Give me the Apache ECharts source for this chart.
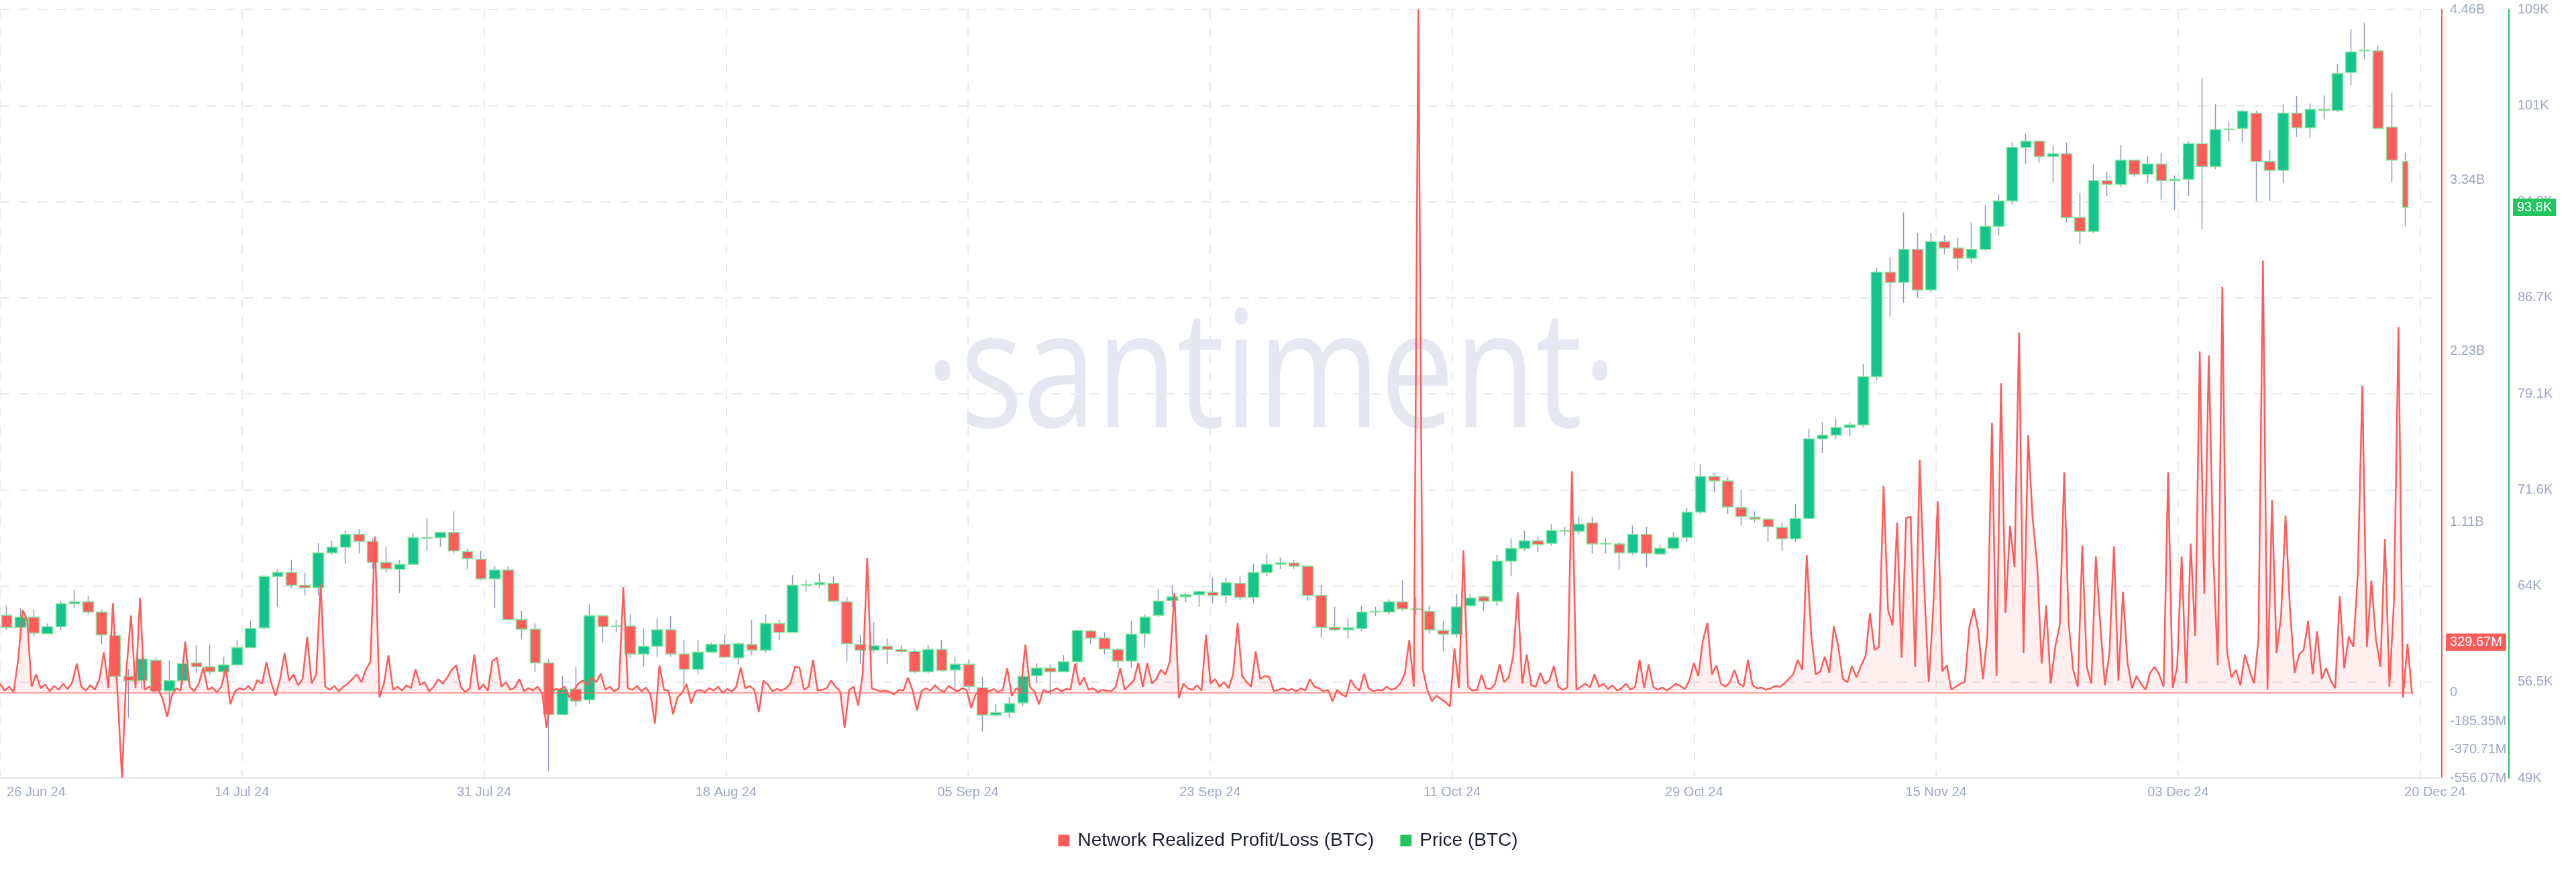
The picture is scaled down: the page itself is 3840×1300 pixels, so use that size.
<!DOCTYPE html>
<html>
<head>
<meta charset="utf-8">
<script src="https://cdn.jsdelivr.net/npm/echarts@6/dist/echarts.min.js"></script>
<style>
html,body{margin:0;padding:0;background:#ffffff;}
#chart{width:3840px;height:1300px;}
</style>
</head>
<body>
<div id="chart"></div>
<script>
// ---------------- DATA ----------------
const xTickLabels = ['26 Jun 24','14 Jul 24','31 Jul 24','18 Aug 24','05 Sep 24','23 Sep 24','11 Oct 24','29 Oct 24','15 Nov 24','03 Dec 24','20 Dec 24'];
const priceTickValues = [48.95, 56.5, 64.05, 71.6, 79.15, 86.7, 94.25, 101.8, 109.35];
const priceTickLabels = ['49K','56.5K','64K','71.6K','79.1K','86.7K','94.3K','101K','109K'];
const plTickValues = [-556.07, -370.71, -185.35, 0, 1114.5, 2229, 3343.5, 4458];
const plTickLabels = ['-556.07M','-370.71M','-185.35M','0','1.11B','2.23B','3.34B','4.46B'];

// Daily BTC candles [open, close, low, high] in thousands USD, from 26 Jun 2024 to 19 Dec 2024
const candleFirstDate = '2024-06-26';
const priceOHLC = [
 [61.75,60.8,60.6,62.45],[60.8,61.6,60.6,62.3],[61.6,60.35,60.1,62.2],[60.3,60.85,60.3,61.1],[60.85,62.65,60.6,62.9],
 [62.65,62.8,62.3,63.75],[62.8,62.0,61.8,63.25],[62.0,60.2,59.45,62.2],[60.15,56.95,56.8,60.5],[56.95,56.6,53.7,57.5],
 [56.6,58.3,56.0,58.5],[58.2,55.8,55.75,58.4],[55.8,56.6,54.3,58.2],[56.6,57.95,56.3,58.3],[58.0,57.7,57.2,59.4],
 [57.7,57.3,57.1,59.4],[57.3,57.85,56.6,58.5],[57.85,59.2,57.8,59.8],[59.2,60.7,59.2,61.3],[60.75,64.8,60.65,64.9],
 [64.8,65.1,62.4,65.35],[65.1,64.1,63.9,66.1],[64.1,63.9,63.3,65.1],[63.9,66.65,63.3,67.4],[66.65,67.1,66.5,67.6],
 [67.1,68.1,65.8,68.4],[68.1,67.55,66.6,68.5],[67.55,65.9,65.4,67.8],[65.9,65.4,65.1,67.1],[65.35,65.75,63.5,66.1],
 [65.75,67.85,65.75,68.2],[67.85,67.8,66.8,69.35],[67.85,68.25,67.1,68.3],[68.25,66.8,66.6,69.9],[66.75,66.2,65.35,66.95],
 [66.15,64.6,64.5,66.8],[64.6,65.3,62.3,65.6],[65.3,61.4,61.3,65.6],[61.4,60.65,59.9,62.1],[60.65,58.0,57.3,61.1],
 [58.0,53.95,49.5,58.3],[53.95,55.95,53.95,57.0],[55.95,55.0,54.6,57.7],[55.1,61.7,54.8,62.6],[61.7,60.85,59.6,61.75],
 [60.85,60.9,60.4,61.4],[60.9,58.7,58.4,61.8],[58.7,59.3,57.7,60.7],[59.3,60.6,58.5,61.5],[60.6,58.7,58.5,61.7],
 [58.7,57.5,56.1,59.8],[57.5,58.85,57.1,59.8],[58.85,59.45,58.8,59.6],[59.45,58.45,58.4,60.3],[58.4,59.5,57.9,59.6],
 [59.45,59.0,58.6,61.4],[59.0,61.1,58.8,61.8],[61.1,60.4,59.8,61.4],[60.4,64.1,60.4,64.9],[64.1,64.15,63.6,64.5],
 [64.15,64.3,63.9,65.0],[64.25,62.85,62.8,64.8],[62.8,59.5,58.1,63.2],[59.45,59.0,57.9,60.2],[59.0,59.35,58.8,61.2],
 [59.3,59.05,57.9,59.9],[59.05,58.9,58.8,59.4],[58.9,57.3,57.2,59.1],[57.3,59.05,57.2,59.4],[59.05,57.4,57.4,59.8],
 [57.45,57.9,55.6,58.5],[57.9,56.15,55.7,58.3],[56.05,53.9,52.6,56.9],[53.9,54.1,53.8,54.8],[54.1,54.8,53.7,55.3],
 [54.85,56.95,54.6,58.0],[57.0,57.6,56.4,58.0],[57.6,57.3,55.5,57.9],[57.3,58.1,57.3,58.6],[58.1,60.55,57.6,60.6],
 [60.5,59.95,59.5,60.6],[59.95,59.1,58.7,60.4],[59.05,58.15,57.6,59.2],[58.15,60.25,57.6,61.3],[60.3,61.6,59.2,61.8],
 [61.75,62.85,61.6,63.8],[62.9,63.2,62.4,64.1],[63.2,63.35,62.8,63.5],[63.35,63.6,62.4,63.65],[63.55,63.3,62.7,64.7],
 [63.3,64.3,62.7,64.7],[64.25,63.15,62.9,64.8],[63.15,65.1,62.7,65.8],[65.1,65.75,64.8,66.5],[65.75,65.85,65.4,66.3],
 [65.85,65.6,65.4,66.1],[65.6,63.3,62.9,65.6],[63.3,60.8,60.0,64.1],[60.8,60.6,60.5,62.4],[60.6,60.75,59.9,61.5],
 [60.7,62.0,60.5,62.5],[62.0,62.05,61.7,62.4],[62.0,62.8,61.8,63.0],[62.8,62.25,62.1,64.5],[62.25,62.2,61.8,63.2],
 [62.05,60.6,60.3,62.5],[60.55,60.25,58.9,61.3],[60.25,62.4,60.0,63.4],[62.5,63.1,62.4,63.4],[63.2,62.85,62.1,63.3],
 [62.85,66.0,62.5,66.5],[66.0,67.0,64.8,67.8],[67.0,67.6,66.8,68.4],[67.6,67.3,66.7,67.9],[67.4,68.4,67.2,68.9],
 [68.4,68.35,68.0,68.7],[68.35,68.9,68.1,69.5],[69.0,67.35,66.6,69.5],[67.35,67.4,66.6,67.8],[67.35,66.65,65.3,67.5],
 [66.65,68.1,66.5,68.8],[68.1,66.6,65.5,68.7],[66.55,67.0,66.5,67.3],[67.0,67.85,66.9,68.3],[67.85,69.85,67.5,70.2],
 [69.85,72.65,69.7,73.6],[72.65,72.3,71.4,72.9],[72.3,70.25,69.7,72.6],[70.2,69.5,68.8,71.6],[69.45,69.3,69.0,69.9],
 [69.3,68.7,67.5,69.4],[68.65,67.75,66.8,69.0],[67.75,69.35,67.5,70.5],[69.35,75.6,69.3,76.4],[75.6,75.9,74.5,76.9],
 [75.9,76.5,75.6,77.2],[76.5,76.7,75.8,76.9],[76.7,80.5,76.5,81.5],[80.5,88.7,80.2,89.0],[88.7,87.9,85.2,89.9],
 [87.9,90.5,86.3,93.4],[90.5,87.3,86.7,91.8],[87.3,91.1,87.1,91.8],[91.1,90.6,90.1,91.6],[90.6,89.8,88.9,91.4],
 [89.8,90.5,89.4,92.6],[90.5,92.3,90.4,94.0],[92.3,94.3,91.6,94.8],[94.3,98.5,94.0,98.9],[98.5,99.0,97.2,99.6],
 [99.0,97.8,97.3,99.0],[97.8,98.0,95.8,98.6],[98.0,93.0,92.6,98.9],[93.0,91.9,90.9,94.9],[91.9,95.9,91.8,97.2],
 [95.9,95.6,94.7,96.6],[95.6,97.5,95.4,98.7],[97.5,96.4,96.2,97.5],[96.4,97.2,95.7,97.8],[97.2,95.9,94.4,98.1],
 [95.9,96.0,93.6,96.3],[96.0,98.8,94.7,99.0],[98.8,97.0,92.1,103.9],[97.0,99.9,96.8,101.9],[99.9,99.95,99.0,100.5],
 [100.0,101.35,98.9,101.45],[101.2,97.4,94.3,101.4],[97.4,96.7,94.3,98.3],[96.7,101.2,95.7,101.9],[101.2,100.05,99.35,102.55],
 [100.05,101.5,99.3,101.95],[101.5,101.4,100.7,102.6],[101.4,104.3,101.3,105.05],[104.4,106.0,103.4,107.8],[106.1,106.15,105.45,108.3],
 [106.1,100.0,100.0,106.5],[100.1,97.5,95.75,102.8]
];
// Partial last candle (20 Dec 2024)
const partialCandleDate = '2024-12-20';
const partialCandle = [97.4, 93.8, 92.3, 98.1];

// Network Realized Profit/Loss, millions USD, every 8 hours from 25 Jun 2024 12:00 UTC
const plStart = '2024-06-25T12:00:00Z';
const plStepHours = 8;
const realizedPL = [
 60,15,40,5,210,540,480,40,120,30,55,10,45,20,60,
 25,70,190,40,15,50,20,90,265,30,585,5,-556,155,505,
 30,620,20,40,10,25,-40,-158,-20,30,15,335,40,10,60,
 165,20,35,5,40,165,-75,10,30,20,45,15,85,60,200,
 70,-20,90,260,80,120,50,90,365,60,120,710,40,20,45,
 10,40,60,90,120,70,150,205,1020,-30,60,245,20,40,15,
 50,30,155,50,70,10,40,90,60,100,150,180,40,5,30,
 250,20,55,15,205,230,40,70,20,35,90,10,30,15,40,
 0,-228,5,25,20,40,-30,15,60,80,50,100,70,125,20,
 40,10,30,690,30,20,45,10,35,-10,-200,180,20,15,-140,
 -30,0,57,-70,10,20,5,30,15,40,0,25,10,40,165,
 30,45,20,-125,80,55,10,25,15,30,60,170,165,20,40,
 215,15,20,30,80,40,10,-228,20,40,-83,125,880,30,20,
 10,15,5,-10,20,15,100,20,-115,10,30,15,50,20,5,
 45,25,10,30,20,-100,-10,15,20,10,25,5,20,160,-20,
 30,10,315,40,10,-75,20,5,15,30,10,25,20,190,50,
 100,20,30,5,20,15,10,40,160,20,50,80,195,40,195,
 60,90,150,120,205,650,-35,60,30,20,50,15,380,60,90,
 40,70,30,120,455,110,70,40,270,90,110,105,10,20,30,
 15,25,10,30,15,90,40,30,10,20,-55,20,-10,-25,85,
 40,15,125,30,10,20,15,40,20,30,60,125,345,40,4458,
 150,20,-55,-20,-40,-60,-90,290,30,930,40,15,20,118,30,
 25,60,185,70,100,240,655,60,250,50,40,130,60,80,175,
 40,20,35,1445,20,40,60,35,120,40,60,25,50,15,30,
 60,20,40,215,30,185,40,20,35,15,35,60,45,25,80,
 195,110,340,455,120,180,60,40,70,150,60,40,215,50,30,
 35,20,30,45,40,60,90,120,215,150,900,370,120,140,235,
 130,435,300,90,70,175,100,175,240,520,280,300,1350,540,440,
 1110,230,1140,1150,170,1520,700,70,550,1250,140,180,20,40,60,
 70,430,550,400,90,380,1760,110,2020,520,1090,820,2350,260,1680,
 1140,840,190,570,60,300,440,1438,450,150,40,960,170,60,890,
 440,50,260,956,80,660,200,30,110,60,20,130,170,120,40,
 1438,30,170,890,60,973,370,2227,645,2201,894,180,2648,280,100,
 150,50,250,150,60,350,2819,20,1258,260,500,1157,535,130,250,
 280,469,120,400,90,160,80,30,631,160,368,300,776,2003,300,
 732,350,170,1004,40,600,2385,-30,320,-5
];
const lastPL = 329.67;      // latest value shown on the P/L axis tag (millions)
const lastPrice = 93.8;     // latest price shown on the price axis tag (thousands)

// ---------------- BUILD ----------------
const DAY = 86400000;
const AXIS_START = Date.parse(plStart);             // left edge of the time axis
const AXIS_SPAN_DAYS = 180.2;
const TICK_DAYS = 17.86;
const toDays = iso => (Date.parse(iso) - AXIS_START) / DAY;

const c0 = toDays(candleFirstDate + 'T00:00:00Z');
const wickData = priceOHLC.map((r, i) => [c0 + i, r[0], r[1], r[2], r[3]]);
const partialX = toDays(partialCandleDate + 'T00:00:00Z');
wickData.push([partialX, partialCandle[0], partialCandle[1], partialCandle[2], partialCandle[3]]);
const bodyData = priceOHLC.map((r, i) => [c0 + i, r[0], r[1], Math.min(r[0], r[1]), Math.max(r[0], r[1])]);
const partialBody = [[partialX, partialCandle[0], partialCandle[1], Math.min(partialCandle[0], partialCandle[1]), Math.max(partialCandle[0], partialCandle[1])]];

const stepDays = plStepHours / 24;
const plData = realizedPL.map((v, j) => [toDays(plStart) + j * stepDays, v]);
const plLastX = plData[plData.length - 1][0];

const FONT = '"Liberation Sans", Arial, sans-serif';
const LABEL_COLOR = '#9ea8c4';
const GRID_COLOR = '#e7eaf2';
const RED = '#ff5b5b';
const GREEN_AXIS = '#22c55e';
const UP = '#14c48c';
const DOWN = '#ff5c5c';
const BODY_BORDER = '#82e59c';
const WICK = '#8e96bd';

// distance from the grid's right edge to each axis tag
const PL_TAG_GAP = 6;
const PRICE_TAG_GAP = 106;
const HIDDEN_LINE = {color: 'rgba(255,255,255,0)', width: 1, opacity: 1, type: 'solid'};

const chart = echarts.init(document.getElementById('chart'), null, {renderer: 'canvas'});

const candleCommon = {
  type: 'candlestick',
  name: 'Price (BTC)',
  xAxisIndex: 0,
  yAxisIndex: 1,
  encode: {x: 0, y: [1, 2, 3, 4]},
  z: 2,
  silent: true
};

chart.setOption({
  animation: false,
  backgroundColor: '#ffffff',
  textStyle: {fontFamily: FONT},
  grid: {left: 0, right: 200, top: 14, bottom: 140, containLabel: false},
  graphic: [{
    type: 'text',
    x: 1895,
    y: 567,
    scaleY: 1.24,
    z: 0,
    silent: true,
    style: {
      text: '\u00b7santiment\u00b7',
      font: '400 197px "Open Sans"',
      fill: '#e5e8f1',
      align: 'center',
      verticalAlign: 'middle',
      textAlign: 'center',
      textVerticalAlign: 'middle'
    }
  }],
  legend: {
    top: 1234,
    left: 'center',
    icon: 'rect',
    itemWidth: 17,
    itemHeight: 17,
    itemGap: 39,
    textStyle: {fontSize: 28, color: '#1c2030', fontFamily: FONT, padding: [0, 0, 0, 7]},
    data: [
      {name: 'Network Realized Profit/Loss (BTC)', itemStyle: {color: RED}},
      {name: 'Price (BTC)', itemStyle: {color: GREEN_AXIS, borderWidth: 0}}
    ]
  },
  xAxis: {
    type: 'value',
    min: 0,
    max: AXIS_SPAN_DAYS,
    interval: TICK_DAYS,
    axisLine: {show: true, onZero: false, lineStyle: {color: '#e3e7ef', width: 2}},
    axisTick: {show: false},
    splitLine: {show: true, lineStyle: {color: GRID_COLOR, width: 2, type: [14, 13]}},
    axisLabel: {
      color: LABEL_COLOR, fontSize: 20, fontFamily: FONT, margin: 11, showMaxLabel: false,
      formatter: v => {
        const k = Math.round(v / TICK_DAYS);
        if (Math.abs(v - k * TICK_DAYS) > 0.01 || k >= xTickLabels.length) return '';
        if (k === 0) return '{first|' + xTickLabels[k] + '}';
        if (k === xTickLabels.length - 1) return '{last|' + xTickLabels[k] + '}';
        return xTickLabels[k];
      },
      rich: {
        first: {padding: [0, 0, 0, 108], fontSize: 20, color: LABEL_COLOR, fontFamily: FONT},
        last: {padding: [0, 0, 0, 44], fontSize: 20, color: LABEL_COLOR, fontFamily: FONT}
      }
    }
  },
  yAxis: [
    { // Network Realized Profit/Loss axis (millions)
      type: 'value',
      position: 'right',
      offset: 0,
      min: plTickValues[0],
      max: plTickValues[plTickValues.length - 1],
      axisLine: {show: true, onZero: false, lineStyle: {color: RED, width: 2}},
      axisTick: {show: false},
      splitLine: {show: false},
      axisLabel: {
        customValues: plTickValues,
        color: LABEL_COLOR, fontSize: 20, fontFamily: FONT, margin: 12,
        formatter: v => {
          const k = plTickValues.findIndex(t => Math.abs(t - v) < 0.01);
          return k >= 0 ? plTickLabels[k] : '';
        }
      }
    },
    { // Price axis (thousands USD)
      type: 'value',
      position: 'right',
      offset: 100,
      min: priceTickValues[0],
      max: priceTickValues[priceTickValues.length - 1],
      axisLine: {show: true, onZero: false, lineStyle: {color: GREEN_AXIS, width: 2}},
      axisTick: {show: false},
      splitLine: {show: false},
      axisLabel: {
        customValues: priceTickValues,
        color: LABEL_COLOR, fontSize: 20, fontFamily: FONT, margin: 13,
        formatter: v => {
          const k = priceTickValues.findIndex(t => Math.abs(t - v) < 0.001);
          return k >= 0 ? priceTickLabels[k] : '';
        }
      }
    },
    { // helper axis for the horizontal dashed grid (same 8 bands as the price axis)
      type: 'value',
      position: 'left',
      min: 0,
      max: priceTickValues.length - 1,
      interval: 1,
      axisLine: {show: false},
      axisTick: {show: false},
      axisLabel: {show: false},
      splitLine: {show: true, lineStyle: {color: GRID_COLOR, width: 2, type: [14, 14]}}
    }
  ],
  series: [
    {
      name: 'Network Realized Profit/Loss (BTC)',
      type: 'line',
      xAxisIndex: 0,
      yAxisIndex: 0,
      data: plData,
      showSymbol: false,
      symbol: 'none',
      z: 3,
      silent: true,
      clip: false,
      lineStyle: {color: RED, width: 2.5},
      itemStyle: {color: RED},
      areaStyle: {color: 'rgba(255,91,91,0.14)'},
      markLine: {
        silent: true,
        symbol: ['none', 'none'],
        animation: false,
        data: [
          [{coord: [0, 0], lineStyle: {color: 'rgba(255,91,91,0.55)', width: 2, type: 'solid'}, label: {show: false}},
           {coord: [plLastX, 0]}],
          {
            yAxis: lastPL,
            lineStyle: HIDDEN_LINE,
            label: {
              show: true, position: 'end', distance: PL_TAG_GAP, opacity: 1,
              formatter: () => lastPL.toFixed(2) + 'M',
              backgroundColor: RED, color: '#ffffff', fontSize: 20, fontFamily: FONT,
              padding: [3, 6, 3, 6], align: 'left', verticalAlign: 'middle'
            }
          }
        ]
      }
    },
    Object.assign({}, candleCommon, {
      data: wickData,
      barWidth: 1,
      itemStyle: {color: WICK, color0: WICK, borderColor: WICK, borderColor0: WICK, borderColorDoji: WICK, borderWidth: 1.5}
    }),
    Object.assign({}, candleCommon, {
      data: bodyData,
      barWidth: 16,
      itemStyle: {color: UP, color0: DOWN, borderColor: BODY_BORDER, borderColor0: BODY_BORDER, borderColorDoji: BODY_BORDER, borderWidth: 1.5}
    }),
    Object.assign({}, candleCommon, {
      data: partialBody,
      barWidth: 8,
      clip: false,
      itemStyle: {color: UP, color0: DOWN, borderColor: BODY_BORDER, borderColor0: BODY_BORDER, borderWidth: 1.5},
      markLine: {
        silent: true,
        symbol: ['none', 'none'],
        animation: false,
        data: [{
          yAxis: lastPrice,
          lineStyle: HIDDEN_LINE,
          label: {
            show: true, position: 'end', distance: PRICE_TAG_GAP, opacity: 1,
            formatter: () => lastPrice.toFixed(1) + 'K',
            backgroundColor: GREEN_AXIS, color: '#ffffff', fontSize: 20, fontFamily: FONT,
            padding: [3, 6, 3, 6], align: 'left', verticalAlign: 'middle'
          }
        }]
      }
    })
  ]
});
</script>
</body>
</html>
